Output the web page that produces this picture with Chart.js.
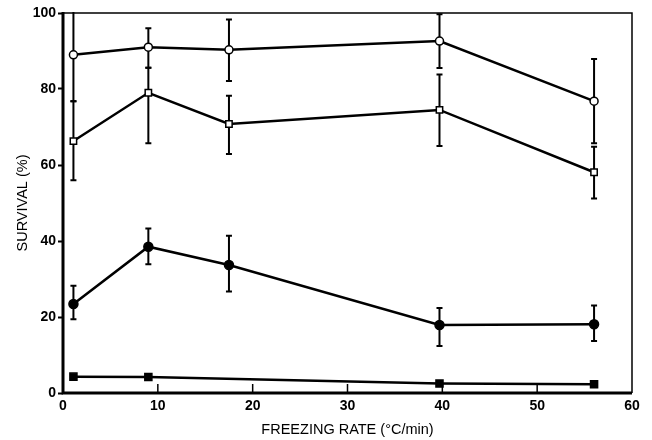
<!DOCTYPE html>
<html>
<head>
<meta charset="utf-8">
<script src="https://cdn.jsdelivr.net/npm/chart.js@4/dist/chart.umd.min.js"></script>
<style>
  html, body { margin: 0; padding: 0; background: #fff; }
  #wrap { width: 652px; height: 440px; }
</style>
</head>
<body>
<div id="wrap"><canvas id="survival"></canvas></div>
<script>
// freezing rate (°C/min)
var rates = [1.1, 9, 17.5, 39.7, 56];
var ratesFilledSquare = [1.1, 9, 39.7, 56];

// open circles
var openCircle = [89, 91, 90.3, 92.6, 76.8];
var openCircleHi = [101.5, 96, 98.3, 99.7, 87.9];
var openCircleLo = [76.8, 85.6, 82.1, 85.5, 65.7];

// open squares
var openSquare = [66.3, 79, 70.8, 74.5, 58.1];
var openSquareHi = [76.8, 85.6, 78.2, 83.8, 64.8];
var openSquareLo = [56, 65.7, 62.9, 65, 51.2];

// filled circles
var filledCircle = [23.4, 38.5, 33.7, 17.9, 18.1];
var filledCircleHi = [28.2, 43.3, 41.4, 22.4, 23];
var filledCircleLo = [19.4, 33.9, 26.7, 12.4, 13.7];

// filled squares
var filledSquare = [4.3, 4.2, 2.5, 2.3];

var xTicks = [0, 10, 20, 30, 40, 50, 60];
var yTicks = [0, 20, 40, 60, 80, 100];

function toPoints(xs, ys) {
    return xs.map(function (x, i) { return { x: x, y: ys[i] }; });
}

var ctx = document.getElementById('survival');
var fontFamily = '"Liberation Sans", Arial, Helvetica, sans-serif';

// error bars, drawn under the markers
var errorBars = {
    id: 'errorBars',
    beforeDatasetsDraw: function (chart) {
        var c = chart.ctx, xs = chart.scales.x, ys = chart.scales.y, area = chart.chartArea;
        c.save();
        c.beginPath();
        c.rect(area.left, area.top - 1, area.right - area.left, area.bottom - area.top + 1);
        c.clip();
        c.strokeStyle = '#000';
        c.lineWidth = 2;
        chart.data.datasets.forEach(function (ds) {
            if (!ds.hi) return;
            ds.data.forEach(function (p, i) {
                var px = xs.getPixelForValue(p.x);
                var top = ys.getPixelForValue(ds.hi[i]);
                var bot = ys.getPixelForValue(ds.lo[i]);
                c.beginPath();
                c.moveTo(px, top); c.lineTo(px, bot);
                c.moveTo(px - 3, top); c.lineTo(px + 3, top);
                c.moveTo(px - 3, bot); c.lineTo(px + 3, bot);
                c.stroke();
            });
        });
        c.restore();
    }
};

// frame and inside x ticks
var frame = {
    id: 'frame',
    afterDraw: function (chart) {
        var c = chart.ctx, area = chart.chartArea, xs = chart.scales.x;
        c.save();
        c.strokeStyle = '#000';
        c.lineWidth = 1.5;
        c.beginPath();
        c.moveTo(area.left, area.top); c.lineTo(area.right, area.top); c.lineTo(area.right, area.bottom);
        c.stroke();
        c.lineWidth = 3;
        c.beginPath();
        c.moveTo(area.left, area.top - 1); c.lineTo(area.left, area.bottom); c.lineTo(area.right, area.bottom);
        c.stroke();
        c.lineWidth = 1.5;
        xTicks.slice(1, -1).forEach(function (v) {
            var px = xs.getPixelForValue(v);
            c.beginPath();
            c.moveTo(px, area.bottom); c.lineTo(px, area.bottom - 9);
            c.stroke();
        });
        c.restore();
    }
};

new Chart(ctx, {
    type: 'scatter',
    data: {
        datasets: [{
            data: toPoints(rates, openCircle),
            hi: openCircleHi, lo: openCircleLo,
            pointStyle: 'circle', pointRadius: 4, pointBackgroundColor: '#fff'
        }, {
            data: toPoints(rates, openSquare),
            hi: openSquareHi, lo: openSquareLo,
            pointStyle: 'rect', pointRadius: 4.5, pointBackgroundColor: '#fff'
        }, {
            data: toPoints(rates, filledCircle),
            hi: filledCircleHi, lo: filledCircleLo,
            pointStyle: 'circle', pointRadius: 4.5, pointBackgroundColor: '#000'
        }, {
            data: toPoints(ratesFilledSquare, filledSquare),
            pointStyle: 'rect', pointRadius: 5, pointBackgroundColor: '#000'
        }].map(function (ds) {
            ds.showLine = true;
            ds.borderColor = '#000';
            ds.borderWidth = 2.5;
            ds.pointBorderColor = '#000';
            ds.pointBorderWidth = 1.5;
            ds.clip = false;
            return ds;
        })
    },
    options: {
        responsive: true,
        maintainAspectRatio: false,
        animation: false,
        layout: { padding: { top: 13, right: 20, bottom: 0, left: 0 } },
        plugins: { legend: { display: false }, tooltip: { enabled: false } },
        scales: {
            x: {
                type: 'linear', min: 0, max: 60,
                afterBuildTicks: function (s) { s.ticks = xTicks.map(function (v) { return { value: v }; }); },
                afterFit: function (s) { s.height = 47; },
                grid: { display: false, drawTicks: false },
                border: { display: false },
                ticks: { color: '#000', padding: 5, maxRotation: 0, font: { family: fontFamily, size: 14, weight: 'bold' } },
                title: { display: true, text: 'FREEZING RATE (°C/min)', color: '#000', padding: { top: 4, bottom: 1 },
                         font: { family: fontFamily, size: 14.5 } }
            },
            y: {
                type: 'linear', min: 0, max: 100,
                afterBuildTicks: function (s) { s.ticks = yTicks.map(function (v) { return { value: v }; }); },
                afterFit: function (s) { s.width = 63; },
                grid: { display: true, drawOnChartArea: false, drawTicks: true, tickLength: 5, tickWidth: 2, color: '#000' },
                border: { display: false },
                ticks: { color: '#000', padding: 2, font: { family: fontFamily, size: 14, weight: 'bold' } },
                title: { display: true, text: 'SURVIVAL (%)', color: '#000', padding: { top: 14, bottom: 2 },
                         font: { family: fontFamily, size: 14.5 } }
            }
        }
    },
    plugins: [errorBars, frame]
});
</script>
</body>
</html>
